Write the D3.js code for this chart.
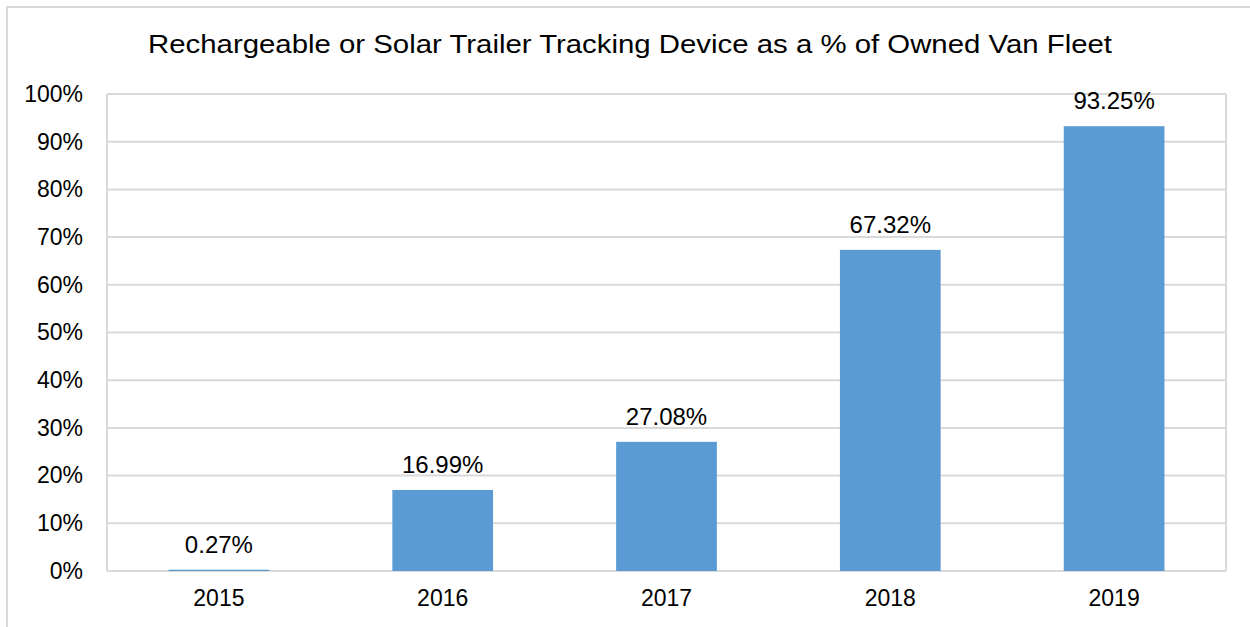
<!DOCTYPE html>
<html lang="en">
<head>
    <meta charset="UTF-8">
    <title>Trailer Tracking Device Share</title>
    <script src="https://d3js.org/d3.v7.min.js"></script>
    <style>
        body {
            margin: 0;
            background: #fff;
            font-family: "Liberation Sans", Arial, sans-serif;
        }
        svg text { fill: #000; }
        .grid line { stroke: #d9d9d9; stroke-width: 2px; }
    </style>
</head>
<body>
    <svg id="chart" width="1250" height="627"></svg>

    <script>
        // data
        const years = ["2015", "2016", "2017", "2018", "2019"];
        const shares = [0.27, 16.99, 27.08, 67.32, 93.25];
        const yTicks = [0, 10, 20, 30, 40, 50, 60, 70, 80, 90, 100];
        const title = "Rechargeable or Solar Trailer Tracking Device as a % of Owned Van Fleet";

        const svg = d3.select("#chart");
        const margin = { left: 107, right: 1226, top: 94, bottom: 571 };
        const font = "'Liberation Sans', Arial, sans-serif";

        // outer chart border (runs off the right and bottom of the picture)
        svg.append("rect")
            .attr("x", 7).attr("y", 7)
            .attr("width", 1400).attr("height", 700)
            .attr("fill", "none")
            .attr("stroke", "#d9d9d9")
            .attr("stroke-width", 2);

        const x = d3.scaleBand()
            .domain(years)
            .range([margin.left, margin.right])
            .paddingInner(0.55)
            .paddingOuter(0.275);

        const y = d3.scaleLinear()
            .domain([0, 100])
            .range([margin.bottom, margin.top]);

        // gridlines
        svg.append("g")
            .attr("class", "grid")
            .selectAll("line")
            .data(yTicks)
            .join("line")
            .attr("x1", margin.left)
            .attr("x2", margin.right)
            .attr("y1", d => y(d))
            .attr("y2", d => y(d));

        // plot area sides
        svg.append("g")
            .attr("class", "grid")
            .selectAll("line")
            .data([margin.left, margin.right])
            .join("line")
            .attr("x1", d => d).attr("x2", d => d)
            .attr("y1", margin.top).attr("y2", margin.bottom);

        // y axis
        const yAxis = svg.append("g")
            .attr("transform", `translate(${margin.left},0)`)
            .call(d3.axisLeft(y).tickValues(yTicks).tickFormat(d => d + "%").tickSize(0).tickPadding(24));
        yAxis.select(".domain").remove();
        yAxis.selectAll("text")
            .style("font-size", "23px")
            .style("font-family", font)
            .attr("fill", "#000");

        // x axis
        const xAxis = svg.append("g")
            .attr("transform", `translate(0,${margin.bottom})`)
            .call(d3.axisBottom(x).tickSize(0).tickPadding(19));
        xAxis.select(".domain").remove();
        xAxis.selectAll("text")
            .style("font-size", "23px")
            .style("font-family", font)
            .attr("fill", "#000");

        // bars
        svg.append("g")
            .selectAll("rect")
            .data(shares)
            .join("rect")
            .attr("x", (d, i) => x(years[i]))
            .attr("width", x.bandwidth())
            .attr("y", d => y(d))
            .attr("height", d => y(0) - y(d))
            .attr("fill", "#5b9bd5");

        // value labels
        svg.append("g")
            .selectAll("text")
            .data(shares)
            .join("text")
            .attr("x", (d, i) => x(years[i]) + x.bandwidth() / 2)
            .attr("y", d => y(d) - 17)
            .attr("text-anchor", "middle")
            .style("font-size", "24px")
            .text(d => d.toFixed(2) + "%");

        // title (stretched a little wider, as in the original)
        svg.append("text")
            .attr("x", 148)
            .attr("y", 53)
            .attr("text-anchor", "start")
            .attr("textLength", 964)
            .attr("lengthAdjust", "spacingAndGlyphs")
            .style("font-size", "25px")
            .text(title);
    </script>
</body>
</html>
